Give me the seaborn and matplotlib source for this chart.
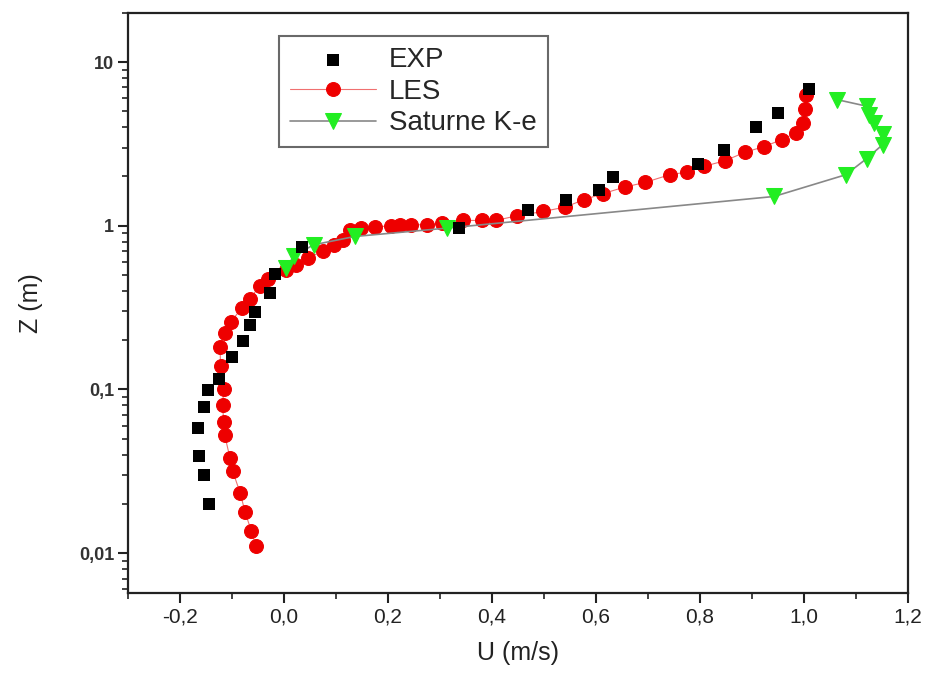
import numpy as np
import pandas as pd
import seaborn as sns
import matplotlib
matplotlib.use('Agg')
import matplotlib.pyplot as plt
from matplotlib.ticker import MultipleLocator, LogLocator, NullFormatter

# measured profile (EXP)
exp_u = [-0.144, -0.153, -0.163, -0.165, -0.154, -0.146, -0.125, -0.100, -0.078, -0.066,
         -0.056, -0.027, -0.017, 0.034, 0.337, 0.469, 0.543, 0.607, 0.634, 0.797,
         0.846, 0.908, 0.951, 1.010]
exp_z = [0.020, 0.030, 0.039, 0.058, 0.078, 0.099, 0.116, 0.158, 0.197, 0.246,
         0.298, 0.391, 0.507, 0.741, 0.963, 1.24, 1.44, 1.66, 1.98, 2.40,
         2.92, 3.99, 4.89, 6.82]

# LES profile
les_u = [-0.054, -0.063, -0.075, -0.084, -0.099, -0.104, -0.114, -0.116, -0.118, -0.116,
         -0.122, -0.123, -0.113, -0.102, -0.081, -0.066, -0.047, -0.030, 0.004, 0.024,
         0.047, 0.075, 0.096, 0.113, 0.127, 0.148, 0.176, 0.205, 0.224, 0.244,
         0.276, 0.305, 0.345, 0.381, 0.408, 0.448, 0.499, 0.541, 0.577, 0.613,
         0.656, 0.695, 0.742, 0.776, 0.809, 0.849, 0.888, 0.923, 0.958, 0.985,
         0.998, 1.003, 1.004]
les_z = [0.0111, 0.0137, 0.0179, 0.0232, 0.0319, 0.0383, 0.0525, 0.063, 0.080, 0.101,
         0.139, 0.181, 0.22, 0.26, 0.314, 0.358, 0.426, 0.472, 0.54, 0.577,
         0.637, 0.70, 0.765, 0.813, 0.945, 0.968, 0.982, 1.0, 1.014, 1.014,
         1.014, 1.039, 1.078, 1.078, 1.078, 1.151, 1.223, 1.301, 1.442, 1.569,
         1.725, 1.84, 2.05, 2.13, 2.31, 2.50, 2.82, 3.04, 3.36, 3.69,
         4.25, 5.17, 6.33]

# Saturne K-epsilon profile
sat_u = [0.003, 0.020, 0.057, 0.136, 0.314, 0.943, 1.081, 1.121, 1.152, 1.152,
         1.135, 1.126, 1.122, 1.064]
sat_z = [0.551, 0.656, 0.765, 0.86, 0.968, 1.51, 2.05, 2.57, 3.13, 3.64,
         4.25, 4.77, 5.37, 5.90]

x_ticks = [-0.2, 0.0, 0.2, 0.4, 0.6, 0.8, 1.0, 1.2]
x_labels = ['-0,2', '0,0', '0,2', '0,4', '0,6', '0,8', '1,0', '1,2']
y_ticks = [0.01, 0.1, 1, 10]
y_labels = ['0,01', '0,1', '1', '10']

sns.set_style('ticks')
plt.rcParams['font.family'] = ['Liberation Sans', 'DejaVu Sans']

exp = pd.DataFrame({'u': exp_u, 'z': exp_z})
les = pd.DataFrame({'u': les_u, 'z': les_z})
sat = pd.DataFrame({'u': sat_u, 'z': sat_z})

fig = plt.figure(figsize=(9.28, 6.74), dpi=100)
ax = fig.add_axes([0.138, 0.120, 0.840, 0.861])

sns.lineplot(data=les, x='u', y='z', sort=False, estimator=None, ax=ax,
             color='#f07070', linewidth=0.8, marker='o', markersize=10,
             markerfacecolor='#ee0000', markeredgecolor='#ee0000', label='LES', zorder=3)
sns.lineplot(data=sat, x='u', y='z', sort=False, estimator=None, ax=ax,
             color='#888888', linewidth=1.2, marker='v', markersize=11,
             markerfacecolor='#22ee22', markeredgecolor='#22ee22',
             label='Saturne K-e', zorder=4)
sns.scatterplot(data=exp, x='u', y='z', ax=ax, marker='s', s=85, color='black',
                edgecolor='black', linewidth=0, label='EXP', zorder=5)

ax.set_yscale('log')
ax.set_xlim(-0.3, 1.2)
ax.set_ylim(0.0057, 20)

ax.set_xticks(x_ticks, x_labels, fontsize=15, color='#222222')
ax.xaxis.set_minor_locator(MultipleLocator(0.1))
ax.set_yticks(y_ticks, y_labels, fontsize=13, fontweight='bold', color='#333333')
ax.yaxis.set_minor_locator(LogLocator(base=10, subs=np.arange(2, 10)))
ax.yaxis.set_minor_formatter(NullFormatter())

ax.tick_params(which='major', direction='out', length=7, width=1.5, color='#222222', pad=3)
ax.tick_params(which='minor', direction='out', length=4.5, width=1.2, color='#222222')
for s in ax.spines.values():
    s.set_linewidth(1.6)
    s.set_color('#222222')

ax.set_xlabel('U (m/s)', fontsize=18, color='#222222', labelpad=11)
ax.set_ylabel('Z (m)', fontsize=18, color='#222222', labelpad=26)

h, l = ax.get_legend_handles_labels()
order = [l.index('EXP'), l.index('LES'), l.index('Saturne K-e')]
leg = ax.legend([h[i] for i in order], [l[i] for i in order],
                loc='upper left', bbox_to_anchor=(0.1936, 0.960), fontsize=20,
                frameon=True, fancybox=False, edgecolor='#444444', handlelength=3.1,
                borderpad=0.4, labelspacing=0.2, handletextpad=0.46, borderaxespad=0)
leg.get_frame().set_linewidth(1.5)

fig.savefig('out.png', dpi=100)
